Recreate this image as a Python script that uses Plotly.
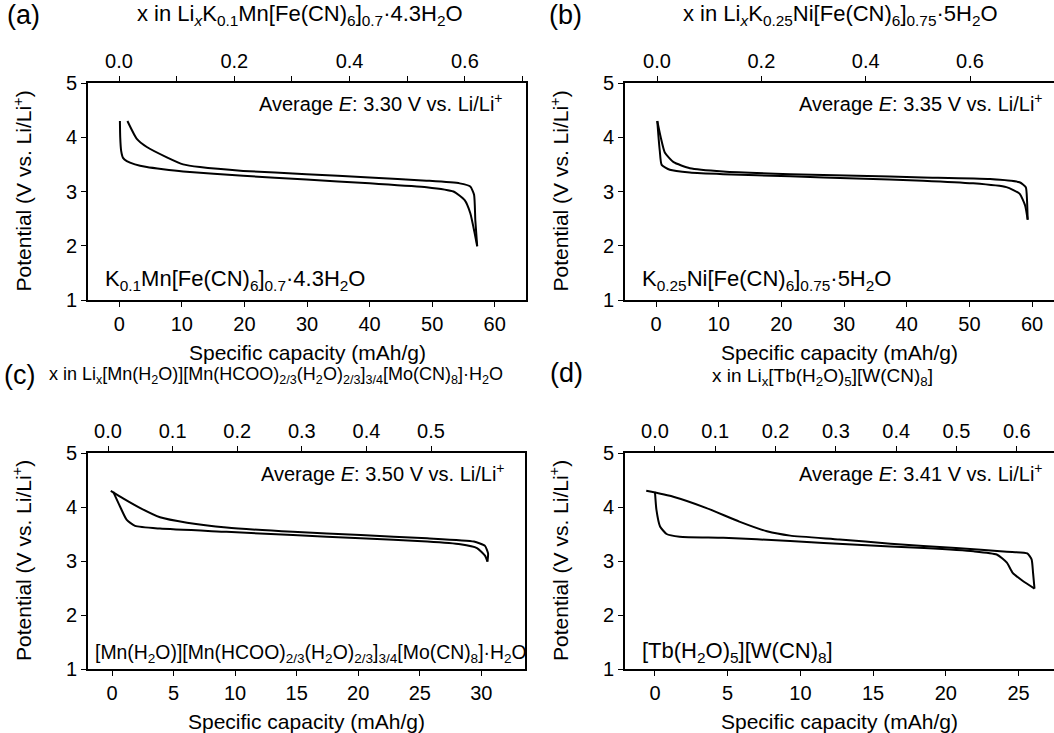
import plotly.graph_objects as go

W, H = 1054, 733
FONT = "Arial, Liberation Sans, Helvetica, sans-serif"

# ---------------- data ----------------
# Panel (a)  K0.1Mn[Fe(CN)6]0.7·4.3H2O
a_dis_cap = [0.1, 0.15, 0.3, 0.6, 1.2, 2.5, 4.4, 7.0, 10.2, 19.8, 29.9, 40.0, 49.1, 53.4, 55.2, 56.1, 56.8, 57.2]
a_dis_v   = [4.30, 4.00, 3.75, 3.62, 3.56, 3.50, 3.45, 3.41, 3.37, 3.29, 3.22, 3.15, 3.08, 3.00, 2.84, 2.60, 2.23, 1.99]
a_chg_cap = [57.2, 56.9, 56.7, 56.1, 54.4, 49.1, 40.0, 29.9, 19.8, 12.9, 10.2, 7.6, 4.4, 2.8, 1.3]
a_chg_v   = [1.99, 2.47, 2.94, 3.09, 3.15, 3.20, 3.26, 3.32, 3.38, 3.45, 3.50, 3.63, 3.82, 3.97, 4.30]

# Panel (b)  K0.25Ni[Fe(CN)6]0.75·5H2O
b_dis_cap = [0.2, 0.4, 0.6, 0.9, 2.2, 5.4, 10.7, 21.4, 32.0, 42.6, 50.6, 55.9, 58.0, 58.9, 59.3]
b_dis_v   = [4.30, 4.00, 3.75, 3.49, 3.40, 3.35, 3.32, 3.28, 3.24, 3.20, 3.15, 3.08, 2.96, 2.74, 2.48]
b_chg_cap = [59.3, 59.2, 59.0, 58.0, 53.3, 42.6, 32.0, 21.4, 10.7, 5.4, 2.8, 1.4, 0.75, 0.2]
b_chg_v   = [2.48, 2.83, 3.08, 3.17, 3.23, 3.26, 3.29, 3.32, 3.37, 3.43, 3.54, 3.72, 4.00, 4.30]

# Panel (c)  [Mn(H2O)][Mn(HCOO)2/3(H2O)2/3]3/4[Mo(CN)8]·H2O
c_dis_cap = [0.1, 0.65, 1.2, 1.87, 3.9, 9.3, 14.7, 20.2, 25.6, 28.3, 29.65, 30.3, 30.5]
c_dis_v   = [4.28, 4.01, 3.76, 3.65, 3.60, 3.54, 3.48, 3.42, 3.36, 3.31, 3.24, 3.10, 2.99]
c_chg_cap = [30.5, 30.55, 30.3, 29.4, 25.6, 20.2, 14.7, 9.3, 6.1, 3.9, 2.3, 0.9, -0.1]
c_chg_v   = [2.99, 3.14, 3.28, 3.36, 3.42, 3.48, 3.54, 3.62, 3.71, 3.81, 3.98, 4.16, 4.30]

# Panel (d)  [Tb(H2O)5][W(CN)8]
d_dis_cap = [0.0, 0.1, 0.35, 0.8, 1.7, 4.7, 9.3, 13.9, 18.5, 21.9, 23.5, 24.2, 24.6, 25.3, 26.1]
d_dis_v   = [4.28, 3.95, 3.64, 3.50, 3.45, 3.43, 3.37, 3.30, 3.24, 3.18, 3.12, 2.97, 2.78, 2.63, 2.49]
d_chg_cap = [26.1, 26.0, 25.9, 25.6, 24.2, 20.7, 16.2, 12.7, 9.3, 7.7, 5.8, 3.55, 1.26, -0.6]
d_chg_v   = [2.49, 2.78, 3.03, 3.14, 3.17, 3.24, 3.32, 3.40, 3.47, 3.55, 3.73, 3.98, 4.19, 4.30]

avg_E = ["3.30", "3.35", "3.50", "3.41"]
panel_letters = ["(a)", "(b)", "(c)", "(d)"]
compounds = [
    "K<sub>0.1</sub>Mn[Fe(CN)<sub>6</sub>]<sub>0.7</sub>·4.3H<sub>2</sub>O",
    "K<sub>0.25</sub>Ni[Fe(CN)<sub>6</sub>]<sub>0.75</sub>·5H<sub>2</sub>O",
    "[Mn(H<sub>2</sub>O)][Mn(HCOO)<sub>2/3</sub>(H<sub>2</sub>O)<sub>2/3</sub>]<sub>3/4</sub>[Mo(CN)<sub>8</sub>]·H<sub>2</sub>O",
    "[Tb(H<sub>2</sub>O)<sub>5</sub>][W(CN)<sub>8</sub>]",
]
top_titles = [
    "x in Li<sub><i>x</i></sub>K<sub>0.1</sub>Mn[Fe(CN)<sub>6</sub>]<sub>0.7</sub>·4.3H<sub>2</sub>O",
    "x in Li<sub><i>x</i></sub>K<sub>0.25</sub>Ni[Fe(CN)<sub>6</sub>]<sub>0.75</sub>·5H<sub>2</sub>O",
    "x in Li<sub>x</sub>[Mn(H<sub>2</sub>O)][Mn(HCOO)<sub>2/3</sub>(H<sub>2</sub>O)<sub>2/3</sub>]<sub>3/4</sub>[Mo(CN)<sub>8</sub>]·H<sub>2</sub>O",
    "x in Li<sub>x</sub>[Tb(H<sub>2</sub>O)<sub>5</sub>][W(CN)<sub>8</sub>]",
]
bottom_ticks = [[0, 10, 20, 30, 40, 50, 60], [0, 10, 20, 30, 40, 50, 60],
                [0, 5, 10, 15, 20, 25, 30], [0, 5, 10, 15, 20, 25]]
top_ticks = [[0.0, 0.2, 0.4, 0.6], [0.0, 0.2, 0.4, 0.6],
             [0.0, 0.1, 0.2, 0.3, 0.4, 0.5], [0.0, 0.1, 0.2, 0.3, 0.4, 0.5, 0.6]]
y_ticks = [1, 2, 3, 4, 5]
x_title = "Specific capacity (mAh/g)"
y_title = "Potential (V vs. Li/Li<sup>+</sup>)"

curves = [(a_dis_cap, a_dis_v, a_chg_cap, a_chg_v),
          (b_dis_cap, b_dis_v, b_chg_cap, b_chg_v),
          (c_dis_cap, c_dis_v, c_chg_cap, c_chg_v),
          (d_dis_cap, d_dis_v, d_chg_cap, d_chg_v)]

# ---------------- layout geometry (pixels) ----------------
boxes = [(88, 526, 83, 300), (625, 1054, 83, 300), (88, 525, 453, 669), (625, 1054, 453, 669)]
bottom_ranges = [[-5, 65], [-4.95, 63.5], [-1.95, 33.55], [-2.06, 27.44]]
top_ranges = [[-0.0538, 0.706], [-0.0614, 0.761], [-0.031, 0.6455], [-0.0497, 0.6617]]
mirror_right = [True, False, True, False]

def px(x):
    return x / W

def py(y):
    return 1 - y / H

fig = go.Figure()
axis_common = dict(showline=True, linecolor="black", linewidth=1.6, ticks="outside",
                   ticklen=5, tickwidth=1.4, tickcolor="black", showgrid=False,
                   zeroline=False, automargin=False,
                   tickfont=dict(family=FONT, size=20, color="black"))

annotations = []
for i in range(4):
    n = i + 1
    xb = f"x{n}" if n > 1 else "x"
    yb = f"y{n}" if n > 1 else "y"
    xt = f"x{n + 4}"
    x0, x1, y0, y1 = boxes[i]
    dcap, dv, ccap, cv = curves[i]
    for cx, cy in ((dcap, dv), (ccap, cv)):
        fig.add_trace(go.Scatter(x=cx, y=cy, mode="lines", xaxis=xb, yaxis=yb,
                                 line=dict(color="black", width=2, shape="spline", smoothing=0.5),
                                 showlegend=False, hoverinfo="skip"))
    # dummy trace to activate top axis
    fig.add_trace(go.Scatter(x=[top_ticks[i][0]], y=[None], mode="lines", xaxis=xt, yaxis=yb,
                             showlegend=False, hoverinfo="skip"))

    xdom = [px(x0), px(x1)]
    ydom = [py(y1), py(y0)]
    fig.layout[f"xaxis{n}" if n > 1 else "xaxis"] = dict(
        axis_common, domain=xdom, range=bottom_ranges[i], tickvals=bottom_ticks[i],
        anchor=yb, mirror=False)
    fig.layout[f"yaxis{n}" if n > 1 else "yaxis"] = dict(
        axis_common, domain=ydom, range=[1, 5], tickvals=y_ticks, anchor=xb,
        mirror=mirror_right[i])
    top = dict(axis_common, domain=xdom, range=top_ranges[i], tickvals=top_ticks[i],
               ticktext=[f"{v:.1f}" for v in top_ticks[i]], side="top",
               overlaying=xb, anchor=yb)
    if i == 0:
        top["minor"] = dict(dtick=0.1, tick0=0, ticklen=5, tickwidth=1.4,
                            tickcolor="black", ticks="outside")
    fig.layout[f"xaxis{n + 4}"] = top

    # Average E annotation
    annotations.append(dict(
        xref=f"{xb} domain", yref=f"{yb} domain",
        x=[0.952, 0.979, 0.959, 0.979][i], y=0.912, xanchor="right", yanchor="middle",
        text=f"Average <i>E</i>: {avg_E[i]} V vs. Li/Li<sup>+</sup>", showarrow=False,
        font=dict(family=FONT, size=20, color="black")))
    # compound label
    annotations.append(dict(
        xref=f"{xb} domain", yref=f"{yb} domain",
        x=[0.034, 0.035, 0.011, 0.035][i], y=[0.092, 0.092, 0.074, 0.078][i],
        xanchor="left", yanchor="middle", text=compounds[i], showarrow=False,
        font=dict(family=FONT, size=[22, 22, 19.4, 22][i], color="black")))
    # panel letter
    annotations.append(dict(
        xref="paper", yref="paper", x=px([5, 547, 2, 548][i]), y=py([15, 15, 375, 373][i]),
        xanchor="left", yanchor="middle", text=panel_letters[i], showarrow=False,
        font=dict(family=FONT, size=27, color="black")))
    # top title
    annotations.append(dict(
        xref="paper", yref="paper", x=px([300, 840, 276, 822][i]), y=py([15, 15, 375, 377][i]),
        xanchor="center", yanchor="middle", text=top_titles[i], showarrow=False,
        font=dict(family=FONT, size=[22, 22, 18, 19][i], color="black")))
    # bottom title
    annotations.append(dict(
        xref="paper", yref="paper", x=px((x0 + x1) / 2), y=py(y1 + 52),
        xanchor="center", yanchor="middle", text=x_title, showarrow=False,
        font=dict(family=FONT, size=21, color="black")))
    # y title
    annotations.append(dict(
        xref="paper", yref="paper", x=px(x0 - 66), y=py((y0 + y1) / 2),
        xanchor="center", yanchor="middle", text=y_title, showarrow=False, textangle=-90,
        font=dict(family=FONT, size=21, color="black")))

fig.update_layout(width=W, height=H, margin=dict(l=0, r=0, t=0, b=0),
                  paper_bgcolor="white", plot_bgcolor="white",
                  font=dict(family=FONT, color="black"), annotations=annotations)

fig.write_html("out.html", config={"displayModeBar": False},
               post_script="document.body.style.margin='0px';")
